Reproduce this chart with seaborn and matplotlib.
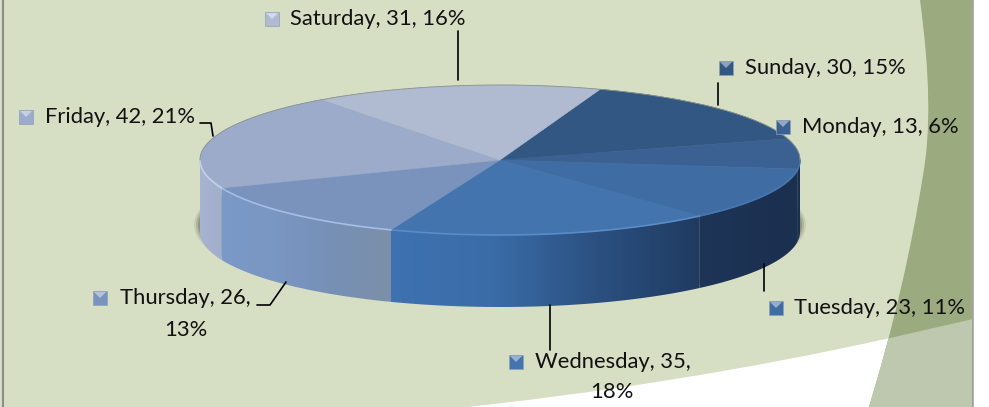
import numpy as np
import matplotlib
matplotlib.use("Agg")
import matplotlib.pyplot as plt
import seaborn as sns
from matplotlib.patches import Ellipse, PathPatch, Polygon, Rectangle
from matplotlib.path import Path

days = ["Sunday", "Monday", "Tuesday", "Wednesday", "Thursday", "Friday", "Saturday"]
counts = [30, 13, 23, 35, 26, 42, 31]
percents = [15, 6, 11, 18, 13, 21, 16]

top_colors = ["#335783", "#3A6192", "#3F6DA3", "#4374AE", "#7A93BD", "#9BABC9", "#B0BAD0"]
rim_colors = ["#3C6290", "#44709F", "#4878AE", "#5A8CC6", "#A4BEE6", "#C4D0E8", "#B8C2D6"]
side_stops = {
    "Monday": ["#1B2F4E", "#1B2F4E"],
    "Tuesday": ["#1E3558", "#1B2F4E"],
    "Wednesday": ["#3E72B0", "#3A6CA8", "#2B5080", "#1F3A60"],
    "Thursday": ["#7B9AC8", "#7A96C2", "#7690B4", "#7C8FA8"],
    "Friday": ["#A8B5D2", "#9FAECD"],
}

# where each label sits, in picture pixels: key x, text x, y
label_spots = {
    "Sunday": (726, 745, 68),
    "Monday": (783, 802, 127),
    "Tuesday": (776, 794, 308),
    "Wednesday": (516, 535, 362),
    "Thursday": (100, 120, 298),
    "Friday": (26, 45, 117),
    "Saturday": (272, 290, 19),
}
wrapped = {"Wednesday": (612, 392), "Thursday": (186, 330)}
leaders = [
    [(458, 31), (458, 80)],
    [(718, 83), (718, 105)],
    [(200, 123), (211, 123), (213, 136)],
    [(257, 305), (270, 305), (286, 282)],
    [(764, 264), (764, 291)],
    [(550, 305), (550, 350)],
]

W, H = 989, 407
CX, CY, RX, RY = 500, 160, 300, 75
DEPTH = 72 / RY
START = 70.5
LABEL_SIZE = 15.8

sns.set_theme(style="white")
plt.rcParams["font.family"] = ["Lato", "DejaVu Sans"]


def draw_background(ax):
    ax.add_patch(Rectangle((0, 0), W, H, color="#D6DEC4", zorder=0))
    # white corner at the bottom
    white = Path(
        [(440, 410), (680, 385), (890, 338), (973, 319), (973, 410), (440, 410)],
        [Path.MOVETO, Path.CURVE3, Path.CURVE3, Path.LINETO, Path.LINETO, Path.CLOSEPOLY],
    )
    ax.add_patch(PathPatch(white, fc="white", lw=0, zorder=1))
    # darker band on the right, curved on its left side
    band = Path(
        [(920, 0), (935, 110), (923, 175), (905, 290), (868, 410), (973, 410), (973, 0), (920, 0)],
        [Path.MOVETO, Path.CURVE3, Path.CURVE3, Path.CURVE3, Path.CURVE3,
         Path.LINETO, Path.LINETO, Path.CLOSEPOLY],
    )
    upper = PathPatch(band, fc="#9CAA80", lw=0, zorder=2)
    ax.add_patch(upper)
    lower = PathPatch(band, fc="#BEC8AE", lw=0, zorder=3)
    ax.add_patch(lower)
    lower.set_clip_path(PathPatch(white, transform=ax.transData))
    ax.plot([3, 3], [0, H], color="#8C8C8C", lw=1.5, zorder=4)
    ax.plot([973, 973], [0, H], color="#A0A0A0", lw=1.5, zorder=4)
    ax.add_patch(Rectangle((974, 0), W - 974, H, color="white", zorder=4))


def draw_shadow(ax):
    for grow, alpha in zip([6, 4, 2], [0.10, 0.16, 0.25]):
        ax.add_patch(Ellipse((0, -DEPTH * 0.9), 2 * (1 + grow / RX), 2 * (1 + grow / RY),
                             fc="#3C3C28", alpha=alpha, lw=0, zorder=1))


def draw_sides(ax, edges):
    for i, day in enumerate(days):
        if day not in side_stops:
            continue
        t0, t1 = min(edges[i], 0), max(edges[i + 1], -180)
        t = np.radians(np.linspace(t0, t1, 80))
        xs, ys = np.cos(t), np.sin(t)
        verts = np.vstack([np.c_[xs, ys], np.c_[xs[::-1], ys[::-1] - DEPTH]])
        shape = Polygon(verts, closed=True, fc="none", lw=0, transform=ax.transData)
        ax.add_patch(shape)
        # stops run left to right across the slice
        shades = sns.blend_palette(side_stops[day], n_colors=64)
        # image a bit wider than the slice so its faded ends stay outside the clip
        im = ax.imshow([shades], extent=(xs.min() - 0.02, xs.max() + 0.02, -2, 1), aspect="auto",
                       interpolation="bilinear", zorder=2)
        im.set_clip_path(shape)


def draw_top(ax, edges):
    wedges, _ = ax.pie(counts, colors=top_colors, startangle=START, counterclock=False,
                       radius=1, wedgeprops={"linewidth": 0})
    for w in wedges:
        w.set_zorder(3)
        w.set_edgecolor(w.get_facecolor())
        w.set_linewidth(0.4)
    # thin edge of the top face, light in front and grey behind
    for i in range(len(days)):
        t = np.radians(np.linspace(edges[i], edges[i + 1], 80))
        front = np.sin(t) <= 0
        ax.plot(np.cos(t[front]), np.sin(t[front]), color=rim_colors[i], lw=1.2, zorder=4)
        ax.plot(np.cos(t[~front]), np.sin(t[~front]), color="#8A9488", lw=0.6, zorder=4)


def draw_labels(ax):
    for i, day in enumerate(days):
        kx, tx, y = label_spots[day]
        head = f"{day}, {counts[i]}, {percents[i]}%"
        if day in wrapped:
            head = f"{day}, {counts[i]},"
            wx, wy = wrapped[day]
            ax.text(wx, wy, f"{percents[i]}%", ha="center", va="center",
                    fontsize=LABEL_SIZE, color="#111111", zorder=8)
        ax.text(tx, y, head, ha="left", va="center", fontsize=LABEL_SIZE, color="#111111", zorder=8)
        ax.add_patch(Rectangle((kx - 7, y - 7), 14, 14, fc=top_colors[i], ec="#8FA0B8", lw=0.5, zorder=6))
        ax.add_patch(Polygon([(kx - 6, y - 6), (kx + 6, y - 6), (kx, y)], fc="white", alpha=0.45, lw=0, zorder=7))
    for pts in leaders:
        xs, ys = zip(*pts)
        ax.plot(xs, ys, color="black", lw=1.2, zorder=5)


fig = plt.figure(figsize=(W / 100, H / 100), dpi=100)

back = fig.add_axes([0, 0, 1, 1], zorder=0)
draw_background(back)
back.set_xlim(0, W)
back.set_ylim(H, 0)
back.axis("off")

# pie axes: one unit is RX wide and RY tall, which squashes the circle
pie_ax = fig.add_axes([0, 0, 1, 1], zorder=1)
pie_ax.patch.set_alpha(0)
angle_edges = START - 360 * np.concatenate([[0], np.cumsum(counts)]) / np.sum(counts)
limits = ((0 - CX) / RX, (W - CX) / RX, (CY - H) / RY, CY / RY)
draw_shadow(pie_ax)
draw_sides(pie_ax, angle_edges)
draw_top(pie_ax, angle_edges)
pie_ax.set_aspect("auto")
pie_ax.set_xlim(limits[0], limits[1])
pie_ax.set_ylim(limits[2], limits[3])
pie_ax.axis("off")

front = fig.add_axes([0, 0, 1, 1], zorder=2)
front.patch.set_alpha(0)
draw_labels(front)
front.set_xlim(0, W)
front.set_ylim(H, 0)
front.axis("off")

fig.savefig("out.png", dpi=100)
